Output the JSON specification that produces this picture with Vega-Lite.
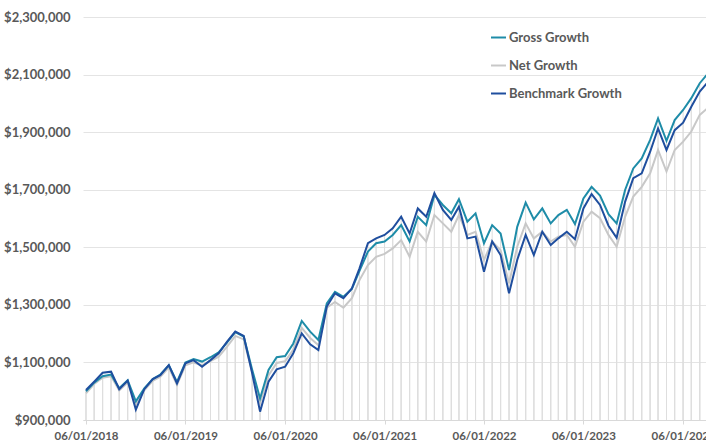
{
  "$schema": "https://vega.github.io/schema/vega-lite/v6.json",
  "width": 623,
  "height": 403,
  "autosize": {"type": "none"},
  "padding": {"left": 83, "top": 17, "right": 0, "bottom": 20},
  "background": "white",
  "config": {"view": {"stroke": null}, "font": "Lato"},
  "data": {"values": [
    {"date": "2018-06-01", "Gross Growth": 1000000, "Net Growth": 993000, "Benchmark Growth": 1004000},
    {"date": "2018-07-01", "Gross Growth": 1030000, "Net Growth": 1025000, "Benchmark Growth": 1033000},
    {"date": "2018-08-01", "Gross Growth": 1052000, "Net Growth": 1047000, "Benchmark Growth": 1064000},
    {"date": "2018-09-01", "Gross Growth": 1058000, "Net Growth": 1052000, "Benchmark Growth": 1068000},
    {"date": "2018-10-01", "Gross Growth": 1010000, "Net Growth": 1003000, "Benchmark Growth": 1007000},
    {"date": "2018-11-01", "Gross Growth": 1038000, "Net Growth": 1030000, "Benchmark Growth": 1037000},
    {"date": "2018-12-01", "Gross Growth": 965000, "Net Growth": 955000, "Benchmark Growth": 936000},
    {"date": "2019-01-01", "Gross Growth": 1010000, "Net Growth": 1003000, "Benchmark Growth": 1007000},
    {"date": "2019-02-01", "Gross Growth": 1042000, "Net Growth": 1036000, "Benchmark Growth": 1042000},
    {"date": "2019-03-01", "Gross Growth": 1058000, "Net Growth": 1050000, "Benchmark Growth": 1056000},
    {"date": "2019-04-01", "Gross Growth": 1090000, "Net Growth": 1082000, "Benchmark Growth": 1091000},
    {"date": "2019-05-01", "Gross Growth": 1032000, "Net Growth": 1022000, "Benchmark Growth": 1027000},
    {"date": "2019-06-01", "Gross Growth": 1100000, "Net Growth": 1090000, "Benchmark Growth": 1097000},
    {"date": "2019-07-01", "Gross Growth": 1112000, "Net Growth": 1100000, "Benchmark Growth": 1108000},
    {"date": "2019-08-01", "Gross Growth": 1103000, "Net Growth": 1090000, "Benchmark Growth": 1085000},
    {"date": "2019-09-01", "Gross Growth": 1118000, "Net Growth": 1105000, "Benchmark Growth": 1108000},
    {"date": "2019-10-01", "Gross Growth": 1135000, "Net Growth": 1120000, "Benchmark Growth": 1132000},
    {"date": "2019-11-01", "Gross Growth": 1170000, "Net Growth": 1155000, "Benchmark Growth": 1172000},
    {"date": "2019-12-01", "Gross Growth": 1205000, "Net Growth": 1192000, "Benchmark Growth": 1207000},
    {"date": "2020-01-01", "Gross Growth": 1190000, "Net Growth": 1180000, "Benchmark Growth": 1192000},
    {"date": "2020-02-01", "Gross Growth": 1075000, "Net Growth": 1066000, "Benchmark Growth": 1062000},
    {"date": "2020-03-01", "Gross Growth": 975000, "Net Growth": 960000, "Benchmark Growth": 929000},
    {"date": "2020-04-01", "Gross Growth": 1074000, "Net Growth": 1055000, "Benchmark Growth": 1033000},
    {"date": "2020-05-01", "Gross Growth": 1118000, "Net Growth": 1098000, "Benchmark Growth": 1076000},
    {"date": "2020-06-01", "Gross Growth": 1122000, "Net Growth": 1104000, "Benchmark Growth": 1085000},
    {"date": "2020-07-01", "Gross Growth": 1166000, "Net Growth": 1145000, "Benchmark Growth": 1132000},
    {"date": "2020-08-01", "Gross Growth": 1244000, "Net Growth": 1220000, "Benchmark Growth": 1201000},
    {"date": "2020-09-01", "Gross Growth": 1207000, "Net Growth": 1185000, "Benchmark Growth": 1163000},
    {"date": "2020-10-01", "Gross Growth": 1178000, "Net Growth": 1160000, "Benchmark Growth": 1143000},
    {"date": "2020-11-01", "Gross Growth": 1305000, "Net Growth": 1290000, "Benchmark Growth": 1294000},
    {"date": "2020-12-01", "Gross Growth": 1345000, "Net Growth": 1310000, "Benchmark Growth": 1340000},
    {"date": "2021-01-01", "Gross Growth": 1328000, "Net Growth": 1290000, "Benchmark Growth": 1323000},
    {"date": "2021-02-01", "Gross Growth": 1355000, "Net Growth": 1323000, "Benchmark Growth": 1357000},
    {"date": "2021-03-01", "Gross Growth": 1418000, "Net Growth": 1386000, "Benchmark Growth": 1427000},
    {"date": "2021-04-01", "Gross Growth": 1485000, "Net Growth": 1438000, "Benchmark Growth": 1514000},
    {"date": "2021-05-01", "Gross Growth": 1514000, "Net Growth": 1467000, "Benchmark Growth": 1531000},
    {"date": "2021-06-01", "Gross Growth": 1520000, "Net Growth": 1477000, "Benchmark Growth": 1543000},
    {"date": "2021-07-01", "Gross Growth": 1543000, "Net Growth": 1496000, "Benchmark Growth": 1566000},
    {"date": "2021-08-01", "Gross Growth": 1577000, "Net Growth": 1525000, "Benchmark Growth": 1606000},
    {"date": "2021-09-01", "Gross Growth": 1520000, "Net Growth": 1467000, "Benchmark Growth": 1548000},
    {"date": "2021-10-01", "Gross Growth": 1606000, "Net Growth": 1554000, "Benchmark Growth": 1635000},
    {"date": "2021-11-01", "Gross Growth": 1577000, "Net Growth": 1520000, "Benchmark Growth": 1606000},
    {"date": "2021-12-01", "Gross Growth": 1682000, "Net Growth": 1612000, "Benchmark Growth": 1688000},
    {"date": "2022-01-01", "Gross Growth": 1647000, "Net Growth": 1583000, "Benchmark Growth": 1630000},
    {"date": "2022-02-01", "Gross Growth": 1618000, "Net Growth": 1554000, "Benchmark Growth": 1595000},
    {"date": "2022-03-01", "Gross Growth": 1667000, "Net Growth": 1612000, "Benchmark Growth": 1641000},
    {"date": "2022-04-01", "Gross Growth": 1589000, "Net Growth": 1543000, "Benchmark Growth": 1531000},
    {"date": "2022-05-01", "Gross Growth": 1618000, "Net Growth": 1554000, "Benchmark Growth": 1537000},
    {"date": "2022-06-01", "Gross Growth": 1514000, "Net Growth": 1456000, "Benchmark Growth": 1415000},
    {"date": "2022-07-01", "Gross Growth": 1577000, "Net Growth": 1520000, "Benchmark Growth": 1520000},
    {"date": "2022-08-01", "Gross Growth": 1548000, "Net Growth": 1490000, "Benchmark Growth": 1473000},
    {"date": "2022-09-01", "Gross Growth": 1421000, "Net Growth": 1375000, "Benchmark Growth": 1340000},
    {"date": "2022-10-01", "Gross Growth": 1571000, "Net Growth": 1502000, "Benchmark Growth": 1456000},
    {"date": "2022-11-01", "Gross Growth": 1655000, "Net Growth": 1583000, "Benchmark Growth": 1543000},
    {"date": "2022-12-01", "Gross Growth": 1597000, "Net Growth": 1531000, "Benchmark Growth": 1473000},
    {"date": "2023-01-01", "Gross Growth": 1635000, "Net Growth": 1554000, "Benchmark Growth": 1554000},
    {"date": "2023-02-01", "Gross Growth": 1583000, "Net Growth": 1520000, "Benchmark Growth": 1508000},
    {"date": "2023-03-01", "Gross Growth": 1612000, "Net Growth": 1537000, "Benchmark Growth": 1531000},
    {"date": "2023-04-01", "Gross Growth": 1630000, "Net Growth": 1543000, "Benchmark Growth": 1554000},
    {"date": "2023-05-01", "Gross Growth": 1581000, "Net Growth": 1502000, "Benchmark Growth": 1528000},
    {"date": "2023-06-01", "Gross Growth": 1670000, "Net Growth": 1589000, "Benchmark Growth": 1635000},
    {"date": "2023-07-01", "Gross Growth": 1710000, "Net Growth": 1624000, "Benchmark Growth": 1685000},
    {"date": "2023-08-01", "Gross Growth": 1680000, "Net Growth": 1601000, "Benchmark Growth": 1647000},
    {"date": "2023-09-01", "Gross Growth": 1615000, "Net Growth": 1543000, "Benchmark Growth": 1575000},
    {"date": "2023-10-01", "Gross Growth": 1583000, "Net Growth": 1502000, "Benchmark Growth": 1533000},
    {"date": "2023-11-01", "Gross Growth": 1699000, "Net Growth": 1606000, "Benchmark Growth": 1658000},
    {"date": "2023-12-01", "Gross Growth": 1774000, "Net Growth": 1676000, "Benchmark Growth": 1740000},
    {"date": "2024-01-01", "Gross Growth": 1809000, "Net Growth": 1710000, "Benchmark Growth": 1757000},
    {"date": "2024-02-01", "Gross Growth": 1873000, "Net Growth": 1757000, "Benchmark Growth": 1832000},
    {"date": "2024-03-01", "Gross Growth": 1948000, "Net Growth": 1838000, "Benchmark Growth": 1913000},
    {"date": "2024-04-01", "Gross Growth": 1870000, "Net Growth": 1763000, "Benchmark Growth": 1838000},
    {"date": "2024-05-01", "Gross Growth": 1942000, "Net Growth": 1838000, "Benchmark Growth": 1907000},
    {"date": "2024-06-01", "Gross Growth": 1977000, "Net Growth": 1867000, "Benchmark Growth": 1933000},
    {"date": "2024-07-01", "Gross Growth": 2018000, "Net Growth": 1902000, "Benchmark Growth": 1988000},
    {"date": "2024-08-01", "Gross Growth": 2070000, "Net Growth": 1960000, "Benchmark Growth": 2041000},
    {"date": "2024-09-01", "Gross Growth": 2105000, "Net Growth": 1985000, "Benchmark Growth": 2075000}
  ]},
  "transform": [
    {"fold": ["Net Growth", "Gross Growth", "Benchmark Growth"], "as": ["series", "value"]}
  ],
  "encoding": {
    "x": {
      "field": "date",
      "type": "temporal",
      "scale": {
        "type": "utc",
        "domain": [
          {"year": 2018, "month": 5, "date": 21, "utc": true},
          {"year": 2024, "month": 8, "date": 24, "utc": true}
        ]
      },
      "axis": {
        "title": null,
        "values": [
          {"year": 2018, "month": 6, "date": 1, "utc": true},
          {"year": 2019, "month": 6, "date": 1, "utc": true},
          {"year": 2020, "month": 6, "date": 1, "utc": true},
          {"year": 2021, "month": 6, "date": 1, "utc": true},
          {"year": 2022, "month": 6, "date": 1, "utc": true},
          {"year": 2023, "month": 6, "date": 1, "utc": true},
          {"year": 2024, "month": 6, "date": 1, "utc": true}
        ],
        "labelExpr": "utcFormat(datum.value, '%m/%d/%Y')",
        "grid": false,
        "domainColor": "#d9d9d9",
        "tickColor": "#d9d9d9",
        "tickSize": 4,
        "labelPadding": 6,
        "labelFont": "Lato",
        "labelFontSize": 11.5,
        "labelFontWeight": "bold",
        "labelColor": "#595959",
        "labelFlush": false,
        "labelOverlap": false
      }
    },
    "y": {
      "field": "value",
      "type": "quantitative",
      "scale": {"domain": [900000, 2300000], "nice": false, "zero": false},
      "axis": {
        "title": null,
        "values": [900000, 1100000, 1300000, 1500000, 1700000, 1900000, 2100000, 2300000],
        "format": "$,.0f",
        "grid": true,
        "gridColor": "#e4e4e4",
        "gridWidth": 1,
        "domain": false,
        "ticks": false,
        "labelPadding": 13,
        "labelFont": "Lato",
        "labelFontSize": 13,
        "labelFontWeight": "bold",
        "labelColor": "#595959"
      }
    }
  },
  "layer": [
    {
      "mark": {"type": "rule", "color": "#dedede", "strokeWidth": 1, "clip": true},
      "encoding": {"y2": {"datum": 900000}}
    },
    {
      "mark": {"type": "line", "strokeWidth": 2, "clip": true},
      "encoding": {
        "color": {
          "field": "series",
          "type": "nominal",
          "scale": {
            "domain": ["Gross Growth", "Net Growth", "Benchmark Growth"],
            "range": ["#1e8ca8", "#c8c8c8", "#1f4e9e"]
          },
          "legend": {
            "title": null,
            "orient": "none",
            "legendX": 407,
            "legendY": 12,
            "symbolType": "stroke",
            "symbolSize": 225,
            "symbolStrokeWidth": 2,
            "labelFont": "Lato",
            "labelFontSize": 13,
            "labelFontWeight": "bold",
            "labelColor": "#595959",
            "rowPadding": 12,
            "labelOffset": 2
          }
        }
      }
    }
  ]
}
